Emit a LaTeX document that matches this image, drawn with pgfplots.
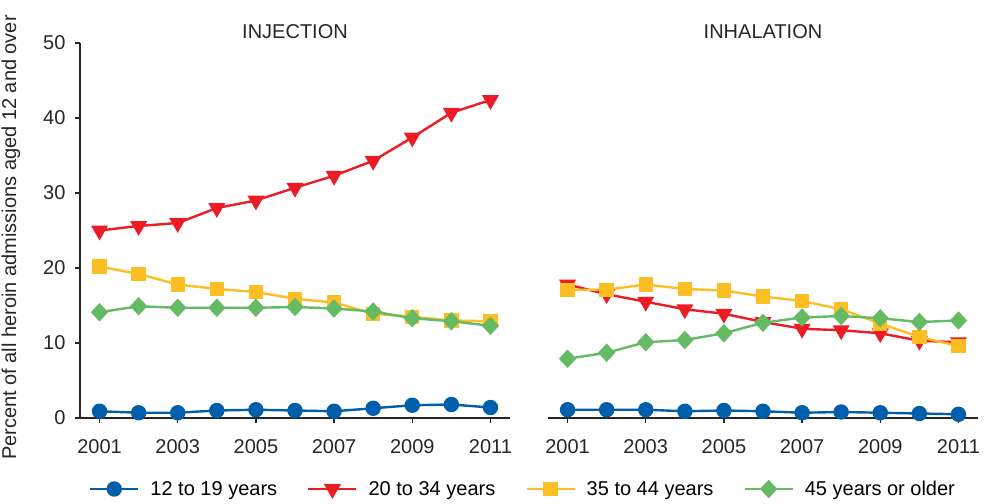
\documentclass[border=0pt]{standalone}
\usepackage{pgfplots}
\pgfplotsset{compat=1.18}
\usepackage{fontspec}
\setmainfont{Liberation Sans}

\definecolor{cblue}{HTML}{005EAA}
\definecolor{cred}{HTML}{ED1C24}
\definecolor{cyellow}{HTML}{FDBE24}
\definecolor{cgreen}{HTML}{64BB64}

\pgfplotsset{
  heroin/.style={
    scale only axis, width=430bp, height=375bp,
    xmin=2000.5, xmax=2011.5, ymin=0, ymax=50,
    xtick={2001,2003,...,2011},
    /pgf/number format/1000 sep={},
    /pgf/number format/assume math mode=true,
    font=\fontsize{20bp}{24bp}\selectfont,
    xticklabel style={yshift=-13bp, text=black!85},
    yticklabel style={xshift=-6bp, text=black!85},
    title style={yshift=-5bp, text=black!85},
    every axis plot/.append style={line width=2.4bp},
  },
  fixlines/.style={
    axis line style={-, line width=1.4bp, black!85},
    tick align=outside, major tick length=5bp,
    tick style={black!85, line width=1.2bp},
  },
  s1/.style={cblue, mark=*, mark size=6.5bp},
  s2/.style={cred, mark=triangle*, mark size=7.5bp, mark options={rotate=180}},
  s3/.style={cyellow, mark=square*, mark size=6bp},
  s4/.style={cgreen, mark=diamond*, mark size=7.5bp, mark options={xscale=1.25}},
}

\begin{document}
\begin{tikzpicture}
\begin{axis}[heroin,
  at={(0,0)}, anchor=south west,
  axis x line=bottom, axis y line=left, fixlines,
  ytick={0,10,...,50},
  title={INJECTION},
  ylabel={Percent of all heroin admissions aged 12 and over},
  y label style={at={(axis description cs:0,0.5)}, anchor=center, rotate=0, yshift=69bp, xshift=-7bp, text=black!85},
  legend columns=4,
  legend style={draw=none, fill=none,
    at={(443bp,-71bp)}, anchor=center,
    /tikz/every odd column/.append style={column sep=9bp},
    /tikz/every even column/.append style={column sep=28bp},
    font=\fontsize{20bp}{24bp}\selectfont},
  legend image code/.code={\draw[mark repeat=2, mark phase=2] plot coordinates {(0bp,0bp) (24bp,0bp) (48bp,0bp)};},
]
\addplot[s1] coordinates {(2001,0.9) (2002,0.7) (2003,0.7) (2004,1.0) (2005,1.1) (2006,1.0) (2007,0.9) (2008,1.3) (2009,1.7) (2010,1.8) (2011,1.4)};
\addplot[s2] coordinates {(2001,25.0) (2002,25.6) (2003,26.0) (2004,28.0) (2005,29.0) (2006,30.7) (2007,32.3) (2008,34.3) (2009,37.4) (2010,40.7) (2011,42.4)};
\addplot[s3] coordinates {(2001,20.2) (2002,19.2) (2003,17.8) (2004,17.2) (2005,16.8) (2006,15.9) (2007,15.4) (2008,13.9) (2009,13.5) (2010,13.0) (2011,12.9)};
\addplot[s4] coordinates {(2001,14.1) (2002,14.9) (2003,14.7) (2004,14.7) (2005,14.7) (2006,14.8) (2007,14.6) (2008,14.2) (2009,13.3) (2010,12.9) (2011,12.3)};
\legend{12 to 19 years, 20 to 34 years, 35 to 44 years, 45 years or older}
\end{axis}

\begin{axis}[heroin,
  at={(468bp,0)}, anchor=south west,
  axis x line=bottom, axis y line=none, fixlines,
  ytick=\empty,
  title={INHALATION},
]
\addplot[s1] coordinates {(2001,1.1) (2002,1.1) (2003,1.1) (2004,0.9) (2005,1.0) (2006,0.9) (2007,0.7) (2008,0.8) (2009,0.7) (2010,0.6) (2011,0.5)};
\addplot[s2] coordinates {(2001,17.8) (2002,16.5) (2003,15.5) (2004,14.5) (2005,13.9) (2006,12.8) (2007,11.9) (2008,11.7) (2009,11.3) (2010,10.3) (2011,10.1)};
\addplot[s3] coordinates {(2001,17.1) (2002,17.1) (2003,17.8) (2004,17.2) (2005,17.0) (2006,16.2) (2007,15.6) (2008,14.5) (2009,12.6) (2010,10.8) (2011,9.6)};
\addplot[s4] coordinates {(2001,7.9) (2002,8.7) (2003,10.1) (2004,10.4) (2005,11.3) (2006,12.7) (2007,13.4) (2008,13.6) (2009,13.3) (2010,12.8) (2011,13.0)};
\end{axis}

\pgfresetboundingbox
\path[use as bounding box] (-80bp,-86bp) rectangle (905bp,418bp);
\end{tikzpicture}
\end{document}
